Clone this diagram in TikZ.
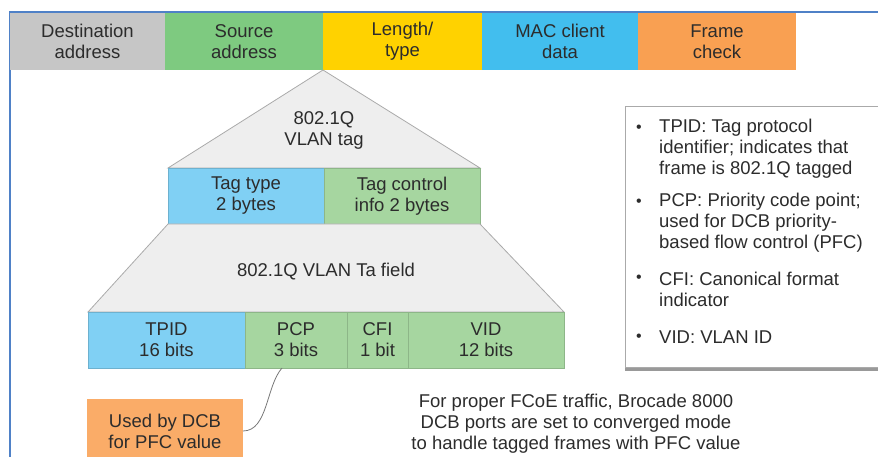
\documentclass[tikz,border=0pt]{standalone}
\usepackage{fontspec}
\setmainfont{Liberation Sans}
\usetikzlibrary{shadows}

\definecolor{framblue}{RGB}{79,129,199}
\definecolor{destgray}{RGB}{198,198,198}
\definecolor{srcgreen}{RGB}{126,202,128}
\definecolor{lenyellow}{RGB}{255,210,0}
\definecolor{macblue}{RGB}{66,190,238}
\definecolor{fcsorange}{RGB}{249,160,82}
\definecolor{tagblue}{RGB}{128,208,244}
\definecolor{taggreen}{RGB}{166,214,160}
\definecolor{noteorange}{RGB}{250,172,104}
\definecolor{tagfill}{RGB}{238,238,238}
\definecolor{tagedge}{RGB}{170,170,170}
\definecolor{txtgray}{RGB}{44,44,44}

\begin{document}
\begin{tikzpicture}[x=1pt,y=-1pt]
  \tikzset{field/.style={rectangle,inner sep=0pt,outer sep=0pt,align=center,
      text=txtgray,font=\fontsize{18.5}{21}\selectfont,minimum height=56pt},
    plaintext/.style={inner sep=0pt,align=center,text=txtgray,
      font=\fontsize{18.5}{21}\selectfont},
    bulletdot/.style={inner sep=0pt,text=txtgray,font=\fontsize{16}{16}\selectfont}}
  \useasboundingbox (0,0) rectangle (878,457);
  \clip (0,0) rectangle (878,457);

% frame
  \draw[framblue, line width=2pt] (10,460) -- (10,12) -- (880,12);

% ethernet header
  \node[field, fill=destgray, minimum width=155pt, minimum height=57pt] (dest) at (87.5,41.5) {Destination\\address};
  \node[field, fill=srcgreen, minimum width=158pt, minimum height=57pt] (src) at (244,41.5) {Source\\address};
  \node[field, fill=lenyellow, minimum width=159pt, minimum height=57pt] (len) at (402.5,41.5) {Length/\\type};
  \node[field, fill=macblue, minimum width=156pt, minimum height=57pt] (mac) at (560,41.5) {MAC client\\data};
  \node[field, fill=fcsorange, minimum width=158pt, minimum height=57pt] (fcs) at (717,41.5) {Frame\\check};

% vlan tag
  \filldraw[fill=tagfill, draw=tagedge, line width=0.8pt] (323,70) -- (480,168) -- (168,168) -- cycle;
  \node[plaintext] (tagtitle) at (324,130) {802.1Q\\VLAN tag};
  \node[field, fill=tagblue, draw=tagblue!85!black, line width=0.5pt, minimum width=156pt] (tagtype) at (246,196) {Tag type\\2 bytes};
  \node[field, fill=taggreen, draw=taggreen!85!black, line width=0.5pt, minimum width=156pt] (tagctrl) at (402,196) {Tag control\\info 2 bytes};

% tag field
  \filldraw[fill=tagfill, draw=tagedge, line width=0.8pt] (168,224) -- (480,224) -- (564,312) -- (88,312) -- cycle;
  \node[plaintext] (fieldtitle) at (326,272) {802.1Q VLAN Ta field};
  \node[field, fill=tagblue, draw=tagblue!85!black, line width=0.5pt, minimum width=157pt] (tpid) at (166.5,340) {TPID\\16 bits};
  \node[field, fill=taggreen, draw=taggreen!85!black, line width=0.5pt, minimum width=102pt] (pcp) at (296,340) {PCP\\3 bits};
  \node[field, fill=taggreen, draw=taggreen!85!black, line width=0.5pt, minimum width=61pt] (cfi) at (377.5,340) {CFI\\1 bit};
  \node[field, fill=taggreen, draw=taggreen!85!black, line width=0.5pt, minimum width=156pt] (vid) at (486,340) {VID\\12 bits};

% pfc note
  \node[field, fill=noteorange, minimum width=156pt, minimum height=64pt] (pfcnote) at (165,431) {Used by DCB\\for PFC value};
  \coordinate (pcpfoot) at (282,368);
  \draw[tagedge!70!black, line width=0.8pt] (pcpfoot) .. controls (266,386) and (268,431) .. (pfcnote.east);

% legend
  \node[rectangle, fill=white, draw=tagedge, line width=0.8pt, minimum width=275pt, minimum height=261pt,
    drop shadow={shadow xshift=0pt, shadow yshift=-4pt, fill=black!40, opacity=1}] (legend) at (762.5,236.5) {};
  \node[bulletdot] (dot1) at (639,129) {•};
  \node[plaintext, anchor=west, align=left] (tpidtext) at (659,148.5) {TPID: Tag protocol\\identifier; indicates that\\frame is 802.1Q tagged};
  \node[bulletdot] (dot2) at (639,203) {•};
  \node[plaintext, anchor=west, align=left] (pcptext) at (659,222.5) {PCP: Priority code point;\\used for DCB priority-\\based flow control (PFC)};
  \node[bulletdot] (dot3) at (639,279) {•};
  \node[plaintext, anchor=west, align=left] (cfitext) at (659,289) {CFI: Canonical format\\indicator};
  \node[bulletdot] (dot4) at (639,338) {•};
  \node[plaintext, anchor=west, align=left] (vidtext) at (659,337) {VID: VLAN ID};

% converged mode remark
  \node[plaintext] (fcoetext) at (576,424) {For proper FCoE traffic, Brocade 8000\\DCB ports are set to converged mode\\to handle tagged frames with PFC value};

\end{tikzpicture}
\end{document}
